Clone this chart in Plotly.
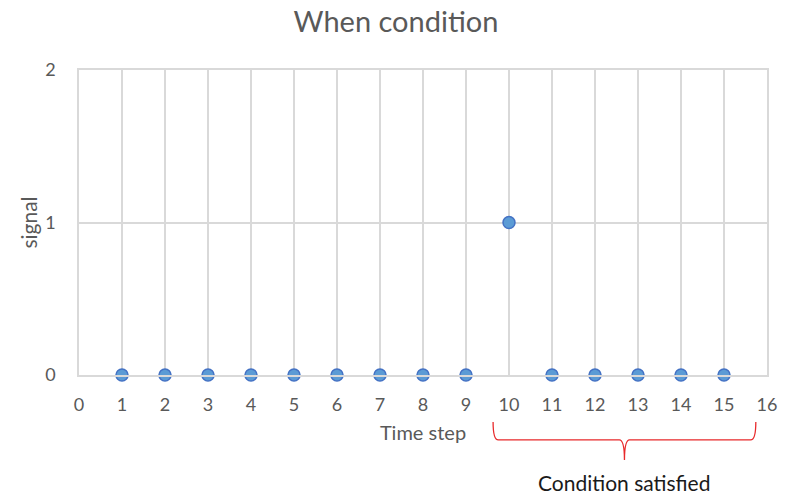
import plotly.graph_objects as go

time_steps = [1, 2, 3, 4, 5, 6, 7, 8, 9, 10, 11, 12, 13, 14, 15]
signal = [0, 0, 0, 0, 0, 0, 0, 0, 0, 1, 0, 0, 0, 0, 0]
x_ticks = list(range(0, 17))
y_ticks = [0, 1, 2]

GRID = "#d9d9d9"
TXT = "#595959"
FONT = "Lato, 'Open Sans', sans-serif"

fig = go.Figure()
fig.add_trace(go.Scatter(
    x=time_steps, y=signal, mode="markers",
    marker=dict(size=12, color="#5b9bd5", line=dict(color="#4472c4", width=1.5)),
    cliponaxis=False, showlegend=False,
))

fig.update_layout(
    width=792, height=496,
    margin=dict(l=79, r=25, t=70, b=121),
    paper_bgcolor="white", plot_bgcolor="white",
    font=dict(family=FONT, color=TXT, size=18),
    title=dict(text="When condition", x=0.5, xanchor="center", y=0.955, yanchor="middle",
               font=dict(size=29, color=TXT, family=FONT)),
)
fig.update_xaxes(
    range=[0, 16], tickvals=x_ticks, ticktext=[str(v) for v in x_ticks],
    showgrid=True, gridcolor=GRID, gridwidth=1.5,
    showline=True, linecolor=GRID, linewidth=1.5, mirror=True,
    zeroline=False, ticks="", ticklabelstandoff=13,
    title=dict(text="Time step", standoff=12, font=dict(size=20, color=TXT)),
)
fig.update_yaxes(
    range=[0, 2], tickvals=y_ticks, ticktext=[str(v) for v in y_ticks],
    showgrid=True, gridcolor=GRID, gridwidth=1.5,
    showline=True, linecolor=GRID, linewidth=1.5, mirror=True,
    zeroline=False, ticks="", ticklabelstandoff=18,
    title=dict(text="signal", standoff=2, font=dict(size=21, color=TXT)),
)

# Red curly brace under the "condition satisfied" region
x0, x1 = 9.63, 15.74
xm = (x0 + x1) / 2
yt, yh, yb = -0.154, -0.213, -0.279
c = 0.12
path = (
    f"M {x0},{yt} Q {x0},{yh} {x0 + c},{yh} "
    f"L {xm - c},{yh} Q {xm},{yh} {xm},{yb} "
    f"Q {xm},{yh} {xm + c},{yh} "
    f"L {x1 - c},{yh} Q {x1},{yh} {x1},{yt}"
)
fig.add_shape(type="path", path=path, xref="x", yref="paper",
              line=dict(color="#e8292b", width=1.3))

fig.add_annotation(text="Condition satisfied", x=xm, xref="x", y=-0.352, yref="paper",
                   yanchor="middle", showarrow=False,
                   font=dict(size=21, color="#1a1a1a", family=FONT))

fig.write_html("out.html")
